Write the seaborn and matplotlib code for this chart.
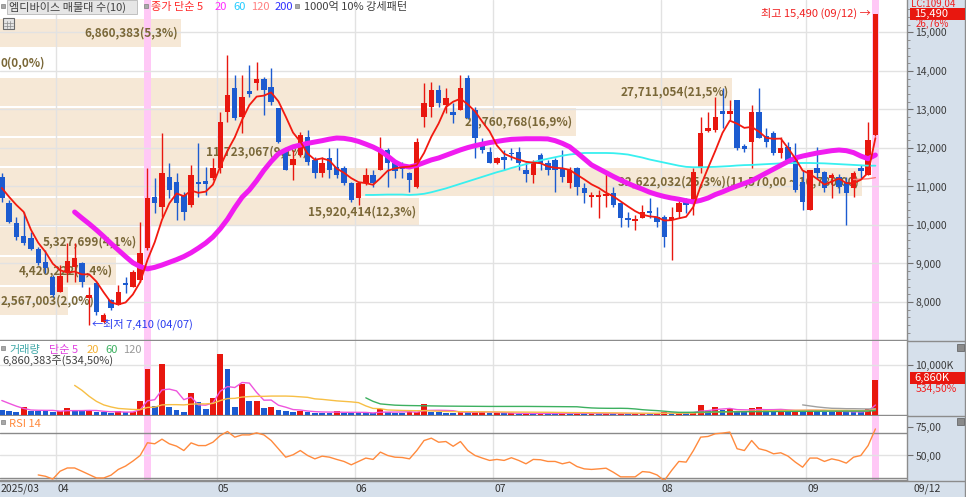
import numpy as np
import pandas as pd
import matplotlib
matplotlib.use('Agg')
import matplotlib.pyplot as plt
import matplotlib.transforms as mtrans
from matplotlib.patches import Rectangle
from matplotlib.lines import Line2D
import seaborn as sns

# ---- daily candles, 2025-03-20 .. 2025-09-12 (index 0..120) ----
opens = [11250, 10570, 10050, 9710, 9660, 9380, 9040, 8650, 8260, 8780,
         8910, 9010, 8100, 8490, 7480, 8050, 7920, 8490, 8390, 8570,
         9400, 10730, 10470, 11250, 11120, 10780, 10520, 11120, 11140, 11220,
         11480, 12930, 13560, 12800, 13480, 13690, 13790, 13580, 13040, 11900,
         11560, 11820, 12290, 11690, 11350, 11740, 11510, 11480, 11090, 10700,
         11090, 11300, 11430, 11950, 11610, 11480, 11350, 10990, 12800, 13060,
         13510, 13120, 12930, 12990, 13820, 12990, 12160, 11900, 11610, 11770,
         11870, 11900, 11430, 11300, 11820, 11610, 11690, 11480, 11090, 11480,
         10960, 10730, 10730, 10750, 10830, 10570, 10180, 10100, 10180, 10360,
         10210, 10210, 10130, 10340, 10600, 10570, 11510, 12440, 12470, 12960,
         12880, 13250, 12050, 12160, 12930, 12310, 12390, 11870, 12030, 11740,
         11120, 10390, 11480, 11380, 11220, 11250, 11120, 10960, 11480, 11300,
         12340]
highs = [11350, 10650, 10210, 10340, 9820, 9430, 9350, 8700, 8960, 9530,
         9530, 9040, 8390, 8520, 7710, 8080, 8440, 8650, 8830, 10080,
         11480, 11220, 12390, 11610, 11350, 10860, 11560, 12130, 11510, 11740,
         12930, 14420, 13900, 13900, 14160, 14230, 13840, 14080, 13040, 11950,
         11950, 12420, 12470, 11770, 11770, 12000, 12000, 11530, 11120, 11120,
         11480, 11430, 12290, 12000, 11690, 11640, 11380, 12260, 13690, 13710,
         13640, 13560, 13170, 13900, 13900, 13060, 12260, 12030, 11770, 11950,
         12000, 12030, 11640, 11690, 11870, 11690, 11740, 11950, 11510, 11510,
         11090, 10860, 10910, 11380, 10990, 10600, 10340, 10260, 10520, 10700,
         10470, 10260, 10470, 10700, 10700, 11480, 12800, 12930, 13320, 13560,
         13250, 13250, 12100, 13120, 13560, 12520, 12440, 12290, 12160, 12130,
         11430, 11430, 12030, 11400, 11350, 11320, 11250, 11400, 11560, 12680,
         15490]
lows = [10600, 10050, 9610, 9480, 9350, 8960, 8750, 8130, 8260, 8520,
        8520, 8390, 7410, 7660, 7450, 7790, 7920, 8230, 8390, 8520,
        9350, 10310, 10210, 10700, 10130, 10130, 10470, 10730, 10780, 11170,
        11350, 12680, 12730, 12390, 13320, 13510, 12860, 13120, 12130, 11430,
        11170, 11770, 11560, 11220, 11250, 11220, 11220, 11040, 10600, 10520,
        11040, 10990, 11430, 10990, 11220, 11220, 10860, 10960, 12550, 12800,
        13060, 12910, 12650, 12990, 12750, 11740, 11870, 11610, 11590, 11430,
        11690, 11430, 11120, 11090, 11430, 11300, 10860, 11120, 10960, 10780,
        10570, 10470, 10180, 10470, 10470, 9950, 9950, 9870, 10180, 10180,
        9950, 9430, 9090, 10180, 10310, 10260, 11350, 12420, 12420, 12520,
        12730, 11950, 11900, 11480, 12260, 12030, 11820, 11740, 11610, 10860,
        10390, 10390, 11220, 10860, 10700, 10830, 10000, 10730, 11220, 11300,
        12310]
closes = [10700, 10080, 9690, 9530, 9380, 9010, 8880, 8180, 8680, 9070,
          9140, 8520, 8180, 7740, 7660, 7840, 8260, 8440, 8780, 9270,
          10700, 10570, 11350, 10910, 10570, 10340, 11300, 11060, 11060, 11480,
          12680, 13380, 12780, 13320, 13400, 13790, 13510, 13190, 12160, 11430,
          11710, 12340, 11640, 11350, 11610, 11430, 11300, 11090, 10650, 11090,
          11300, 11090, 11950, 11610, 11400, 11450, 11170, 12160, 13170, 13510,
          13170, 13300, 12860, 13560, 12780, 12260, 11950, 11610, 11740, 11690,
          11840, 11610, 11320, 11640, 11610, 11430, 11430, 11250, 11430, 10990,
          10830, 10780, 10780, 10810, 10520, 10180, 10130, 10160, 10340, 10310,
          10080, 9690, 10210, 10570, 10520, 11380, 12390, 12520, 12800, 12880,
          12960, 12000, 11970, 12930, 12260, 12160, 11870, 12000, 11690, 10910,
          10600, 11430, 11350, 10960, 11300, 10990, 10830, 11350, 11400, 12220,
          15490]
# volume in thousand shares
volume = [1070, 870, 670, 1530, 800, 800, 800, 670, 700, 1330,
          870, 800, 870, 600, 530, 400, 800, 530, 670, 2870,
          9200, 1870, 10200, 1530, 1070, 530, 4400, 2530, 1200, 3330,
          12070, 9070, 1530, 6200, 2730, 2870, 1330, 1670, 1070, 800,
          530, 870, 670, 470, 450, 430, 870, 470, 450, 400,
          380, 330, 1200, 530, 470, 450, 600, 670, 2200, 670,
          530, 470, 400, 800, 530, 600, 670, 350, 420, 300,
          320, 280, 350, 300, 330, 300, 280, 450, 300, 330,
          280, 300, 260, 330, 300, 320, 250, 280, 300, 260,
          300, 500, 420, 450, 380, 600, 2000, 870, 1530, 930,
          1200, 800, 670, 1330, 1530, 930, 870, 930, 800, 1070,
          870, 1070, 800, 670, 600, 730, 670, 530, 500, 1283,
          6860]

# moving averages (start index, values)
ma5_head = [10960, 10730, 10520, 10340]
ma20_start = 10
ma20 = [10337, 10180, 10030, 9870, 9700, 9520, 9350, 9180, 9020, 8920,
        8860, 8900, 8960, 9030, 9100, 9180, 9280, 9400, 9530, 9690,
        9900, 10150, 10450, 10720, 10909, 11150, 11420, 11650, 11850, 11950,
        12030, 12077, 12120, 12155, 12190, 12230, 12259, 12250, 12220, 12170,
        12100, 12025, 11930, 11790, 11640, 11540, 11506, 11550, 11620, 11690,
        11740, 11810, 11880, 11950, 12010, 12060, 12100, 12140, 12170, 12200,
        12225, 12233, 12240, 12240, 12240, 12235, 12190, 12120, 12030, 11880,
        11720, 11560, 11460, 11360, 11260, 11168, 11080, 11000, 10930, 10850,
        10790, 10740, 10700, 10670, 10630, 10600, 10640, 10700, 10790, 10860,
        10940, 11010, 11080, 11150, 11250, 11350, 11450, 11550, 11650, 11740,
        11790, 11830, 11870, 11900, 11930, 11947, 11930, 11880, 11790, 11720,
        11817]
ma60_start = 50
ma60 = [10780, 10780, 10785, 10790, 10790, 10790, 10780, 10790, 10810, 10850,
        10900, 10950, 11010, 11070, 11130, 11190, 11250, 11310, 11370, 11420,
        11480, 11530, 11580, 11630, 11680, 11720, 11760, 11800, 11830, 11850,
        11870, 11870, 11870, 11870, 11865, 11850, 11830, 11790, 11750, 11700,
        11660, 11620, 11580, 11540, 11510, 11500, 11500, 11505, 11510, 11520,
        11530, 11545, 11555, 11560, 11570, 11580, 11590, 11600, 11605, 11610,
        11610, 11610, 11605, 11600, 11590, 11580, 11570, 11560, 11550, 11540,
        11540]
ma120_start = 117
ma120 = [11180, 11190, 11200, 11230]

vma5_head = [2870, 2300, 1750, 1300]
vma20_start = 10
vma20 = [5870, 4900, 3700, 2700, 2000, 1600, 1300, 1200, 1100, 1070,
         1500, 1550, 2000, 2050, 2050, 2000, 2150, 2200, 2200, 2300,
         2850, 3250, 3300, 3550, 3650, 3700, 3700, 3750, 3750, 3750,
         3700, 3600, 3500, 3200, 3100, 2950, 2800, 2700, 2600, 2450,
         1800, 1300, 1250, 1000, 950, 900, 870, 850, 870, 800,
         750, 700, 680, 660, 650, 640, 630, 620, 610, 600,
         590, 580, 570, 560, 550, 540, 520, 500, 480, 470,
         460, 450, 440, 430, 420, 400, 380, 360, 350, 340,
         340, 350, 360, 370, 380, 400, 480, 520, 590, 620,
         660, 690, 710, 750, 800, 830, 860, 880, 900, 930,
         950, 960, 960, 950, 940, 930, 920, 900, 880, 890,
         1180]
vma60_start = 50
vma60 = [3400, 2700, 2200, 2070, 1950, 1900, 1870, 1850, 1830, 1800,
         1780, 1760, 1750, 1740, 1730, 1720, 1710, 1700, 1700, 1700,
         1700, 1700, 1700, 1690, 1680, 1670, 1660, 1650, 1640, 1630,
         1500, 1400, 1350, 1330, 1320, 1330, 1300, 1200, 1050, 950,
         870, 750, 620, 530, 530, 540, 570, 590, 610, 620,
         630, 640, 650, 660, 670, 680, 690, 700, 710, 720,
         730, 740, 750, 750, 760, 760, 770, 770, 770, 780,
         880]
vma120_start = 110
vma120 = [2000, 1800, 1600, 1450, 1330, 1300, 1250, 1250, 1220, 1200, 1250]

rsi_start = 5
rsi = [32.7, 31.5, 29.0, 36.0, 38.9, 38.9, 36.0, 33.0, 30.0, 30.0,
       32.5, 37.6, 40.6, 45.0, 50.0, 61.3, 60.4, 64.5, 60.4, 58.3,
       54.4, 61.2, 58.8, 58.8, 61.8, 67.7, 71.3, 66.3, 68.3, 68.3,
       70.1, 68.3, 63.3, 55.9, 48.5, 50.6, 54.4, 50.0, 47.0, 49.4,
       48.5, 46.5, 44.7, 41.7, 44.7, 47.7, 46.5, 53.0, 50.0, 48.5,
       48.2, 47.0, 54.4, 63.3, 65.4, 61.8, 62.4, 58.2, 62.4, 54.4,
       50.0, 47.7, 45.6, 46.5, 45.6, 48.0, 45.6, 42.6, 46.5, 46.2,
       44.7, 44.7, 42.6, 44.1, 40.2, 38.1, 37.6, 38.1, 38.7, 35.1,
       31.0, 31.0, 31.0, 35.7, 35.1, 32.7, 27.7, 36.6, 44.7, 44.1,
       54.4, 66.3, 66.9, 69.3, 69.9, 70.8, 56.0, 54.4, 63.3, 56.0,
       54.4, 51.5, 52.4, 49.4, 44.1, 39.6, 47.7, 47.7, 44.7, 47.0,
       45.6, 43.2, 48.5, 50.0, 58.8, 73.6]

# price-by-volume bands (매물대), top to bottom
band_top = 15380
band_step = 774
band_vol = [6860383, 0, 27711054, 21760768, 11723067, 32622032, 15920414,
            5327699, 4420222, 2567003]
band_pct = [5.3, 0.0, 21.5, 16.9, 9.1, 25.3, 12.3, 4.1, 3.4, 2.0]
band_range = '(11,570,00 ~ 10,780,00)'

month_idx = [8, 30, 49, 68, 91, 111]
month_lbl = ['04', '05', '06', '07', '08', '09']
highlight_idx = [20, 120]
price_ticks = [8000, 9000, 10000, 11000, 12000, 13000, 14000, 15000]

# ---------------------------------------------------------------
sns.set_style('white')
plt.rcParams['font.family'] = ['Noto Sans CJK KR', 'DejaVu Sans']

RED = '#e8170f'
BLUE = '#1c5bd0'
BEIGE = '#f6e8d6'
GRID = '#e2e2e2'
PINK = '#ffc8f6'
STRIP = '#d6e0eb'
SEP = '#8c8c8c'

W, H = 966, 497
fig = plt.figure(figsize=(W / 100, H / 100), dpi=100)


def fx(px):
    return px / W


def fy(py):
    return 1 - py / H


RIGHT = 907
ax_p = fig.add_axes([0, fy(340), fx(RIGHT), 340 / H])
ax_v = fig.add_axes([0, fy(415), fx(RIGHT), 74 / H])
ax_r = fig.add_axes([0, fy(480), fx(RIGHT), 64 / H])

n = len(closes)
idx = np.arange(n)
o, h, l, c = map(np.array, (opens, highs, lows, closes))
XL, XR = -0.25, 124.34

# strips behind the axes
fig.add_artist(Rectangle((fx(908), 0), 1 - fx(908), 1, transform=fig.transFigure,
                         color=STRIP, zorder=-5))
fig.add_artist(Rectangle((0, 0), 1, fy(481), transform=fig.transFigure,
                         color=STRIP, zorder=-5))
for yy in (340.5, 415.5, 480.5):
    fig.add_artist(Line2D([0, 1], [fy(yy), fy(yy)], transform=fig.transFigure,
                          color=SEP, lw=1, zorder=-4))
fig.add_artist(Line2D([fx(964.5), fx(964.5)], [0, 1], transform=fig.transFigure,
                      color=SEP, lw=1, zorder=-4))

for ax in (ax_p, ax_v, ax_r):
    ax.set_facecolor('white')
    ax.set_xlim(XL, XR)
    for s in ('left', 'top'):
        ax.spines[s].set_visible(False)
    for s in ('right', 'bottom'):
        ax.spines[s].set_color(SEP)
        ax.spines[s].set_linewidth(1)
    ax.tick_params(axis='x', bottom=False, labelbottom=False)
    ax.yaxis.tick_right()
    ax.tick_params(axis='y', which='major', direction='out', length=4, width=0.8,
                   color='#707070', labelsize=7.5, labelcolor='#3c3c3c', pad=2)
    for m in month_idx:
        ax.axvline(m - 0.5, color=GRID, lw=1, zorder=1)
    for hi in highlight_idx:
        ax.axvspan(hi - 0.5, hi + 0.5, color=PINK, lw=0, zorder=0.8)

# ---- price panel ----
ax_p.set_ylim(7013, 15843)
for p in price_ticks:
    ax_p.axhline(p, color=GRID, lw=1, zorder=1)

span = XR - XL
pmax = max(band_pct)
for k, (bv, bp) in enumerate(zip(band_vol, band_pct)):
    yc = band_top - band_step * (k + 0.5)
    w = bp / pmax * 0.95 * span
    ax_p.barh(yc, w, left=XL, height=band_step * 0.94, color=BEIGE, lw=0, zorder=0.5)
    lab = f'{bv:,}({bp:.1f}%)'.replace('.', ',')
    if bp == pmax:
        lab += band_range
    if w * 7.28 >= 100:
        ax_p.text(XL + w - 0.4, yc, lab, ha='right', va='center', fontsize=8.5,
                  fontweight='bold', color='#7a6838', zorder=2)
    else:
        ax_p.text(XL + 0.05, yc, lab, ha='left', va='center', fontsize=8.5,
                  fontweight='bold', color='#7a6838', zorder=2)

col = np.where(c >= o, RED, BLUE)
ax_p.vlines(idx, l, h, colors=col, lw=1, zorder=3)
body_lo = np.minimum(o, c)
body_h = np.maximum(np.abs(c - o), 40)
ax_p.bar(idx, body_h, bottom=body_lo, width=0.74, color=col, lw=0, zorder=3.1)

ma5 = pd.Series(c).rolling(5).mean().to_numpy()
ma5[:4] = ma5_head


def sline(ax, start, vals, color, lw, z=4):
    xs = np.arange(start, start + len(vals))
    sns.lineplot(x=xs, y=np.asarray(vals, dtype=float), ax=ax, color=color,
                 linewidth=lw, zorder=z, legend=False)


sline(ax_p, 0, ma5, '#f21a10', 1.3, 4.2)
sline(ax_p, ma20_start, ma20, '#f01cf0', 3.6, 4.1)
sline(ax_p, ma60_start, ma60, '#38f0f0', 1.3, 4.0)
sline(ax_p, ma120_start, ma120, '#ff7a7a', 1.0, 4.0)

ax_p.set_yticks(price_ticks)
ax_p.set_yticklabels([f'{p:,}' for p in price_ticks])
ax_p.set_yticks(np.arange(7200, 15800, 200), minor=True)
ax_p.tick_params(axis='y', which='minor', direction='out', length=2, color='#808080')

ax_p.text(120 - 0.7, 15490, '최고 15,490 (09/12) →', ha='right', va='center',
          fontsize=8, color='#f02020', zorder=6)
ax_p.text(12 + 0.4, 7410, '←최저 7,410 (04/07)', ha='left', va='center',
          fontsize=8, color='#2a3cf0', zorder=6)

# ---- volume panel ----
ax_v.set_ylim(0, 14660)
ax_v.axhline(10000, color=GRID, lw=1, zorder=1)
vol = np.array(volume)
vcol = [BLUE] + [RED if vol[i] > vol[i - 1] else BLUE for i in range(1, n)]
ax_v.bar(idx, vol, width=0.8, color=vcol, lw=0, zorder=3)
vma5 = pd.Series(vol).rolling(5).mean().to_numpy()
vma5[:4] = vma5_head
sline(ax_v, 0, vma5, '#ee55dd', 1.0)
sline(ax_v, vma20_start, vma20, '#f7bf45', 1.0)
sline(ax_v, vma60_start, vma60, '#3cb060', 1.0)
sline(ax_v, vma120_start, vma120, '#a0a0a0', 1.0)
ax_v.set_yticks([10000])
ax_v.set_yticklabels(['10,000K'])

# ---- RSI panel ----
ax_r.set_ylim(28.2, 85.1)
ax_r.axhline(70, color='#8a8a8a', lw=1, zorder=1)
ax_r.axhline(30, color='#8a8a8a', lw=1, zorder=1)
ax_r.axhline(50, color=GRID, lw=1, zorder=1)
sline(ax_r, rsi_start, rsi, '#ff8a3d', 1.0)
ax_r.set_yticks([50, 75])
ax_r.set_yticklabels(['50,00', '75,00'])

for ax in (ax_p, ax_v, ax_r):
    ax.set_xlabel('')
    ax.set_ylabel('')
    ax.set_xlim(XL, XR)

# ---- x labels in bottom strip ----
tr = mtrans.blended_transform_factory(ax_r.transData, fig.transFigure)
for m, lb in zip(month_idx, month_lbl):
    ax_r.text(m - 0.35, fy(489), lb, transform=tr, ha='left', va='center',
              fontsize=7.5, color='#333333', clip_on=False)
fig.text(fx(1), fy(489), '2025/03', ha='left', va='center', fontsize=7.5, color='#333333')
fig.text(fx(913), fy(489), '09/12', ha='left', va='center', fontsize=7.5, color='#333333')

# ---- legends / headers ----
def sq(x, y):
    fig.add_artist(Rectangle((fx(x), fy(y + 4)), 4 / W, 4 / H, transform=fig.transFigure,
                             facecolor='#a8a8a8', edgecolor='#808080', lw=0.5, zorder=10))


sq(1, 4)
fig.add_artist(Rectangle((fx(7), fy(14)), 130 / W, 14 / H, transform=fig.transFigure,
                         facecolor='#e6e6e6', edgecolor='#b8b8b8', lw=0.6, zorder=10))
fig.text(fx(9), fy(7), '엠디바이스 매물대 수(10)', fontsize=8, color='#404040',
         va='center', zorder=11)
sq(144, 4)
for x, t, cl in [(151, '종가 단순 5', '#ff2a2a'), (215, '20', '#ff2cff'),
                 (233, '60', '#22ccff'), (251, '120', '#ff8080'),
                 (275, '200', '#2f2fff')]:
    fig.text(fx(x), fy(7), t, fontsize=8, color=cl, va='center', zorder=11)
sq(295, 4)
fig.text(fx(304), fy(7), '1000억 10% 강세패턴', fontsize=8, color='#404040',
         va='center', zorder=11)
# small calculator icon
fig.add_artist(Rectangle((fx(3), fy(29)), 11 / W, 11 / H, transform=fig.transFigure,
                         facecolor='#e4e4e4', edgecolor='#6a6a6a', lw=0.8, zorder=10))
for gx in (6.5, 10):
    fig.add_artist(Line2D([fx(gx), fx(gx)], [fy(28), fy(21)], transform=fig.transFigure,
                          color='#8a8a8a', lw=0.5, zorder=11))
for gy in (23, 26):
    fig.add_artist(Line2D([fx(4), fx(13)], [fy(gy), fy(gy)], transform=fig.transFigure,
                          color='#8a8a8a', lw=0.5, zorder=11))

sq(1, 346)
for x, t, cl in [(9, '거래량', '#40a8a8'), (49, '단순 5', '#e040e0'),
                 (87, '20', '#f5b030'), (105, '60', '#3cb060'), (123, '120', '#9a9a9a')]:
    fig.text(fx(x), fy(350), t, fontsize=8, color=cl, va='center', zorder=11)
fig.text(fx(2), fy(361), '6,860,383주(534,50%)', fontsize=8, color='#404040',
         va='center', zorder=11)

sq(1, 420)
fig.text(fx(9), fy(424), 'RSI 14', fontsize=8, color='#ff8a3d', va='center', zorder=11)

# ---- right strip boxes ----
fig.text(fx(911), fy(3.5), 'LC:109,04', fontsize=7, color='#f02020', va='center', zorder=11)
fig.add_artist(Rectangle((fx(910), fy(20)), 55 / W, 12 / H, transform=fig.transFigure,
                         facecolor=RED, lw=0, zorder=10))
fig.text(fx(914), fy(14), '15,490', fontsize=8, color='white', va='center', zorder=11)
fig.text(fx(916), fy(24), '26,76%', fontsize=7, color='#f02020', va='center', zorder=11)

fig.add_artist(Rectangle((fx(910), fy(384)), 55 / W, 12 / H, transform=fig.transFigure,
                         facecolor=RED, lw=0, zorder=10))
fig.text(fx(914), fy(378), '6,860K', fontsize=8, color='white', va='center', zorder=11)
fig.text(fx(916), fy(389), '534,50%', fontsize=7.5, color='#f02020', va='center', zorder=11)

for yy in (344, 418):
    fig.add_artist(Rectangle((fx(957), fy(yy + 7)), 7 / W, 7 / H, transform=fig.transFigure,
                             facecolor='#8a8a8a', edgecolor='#5a5a5a', lw=0.5, zorder=10))

fig.savefig('out.png', dpi=100)
